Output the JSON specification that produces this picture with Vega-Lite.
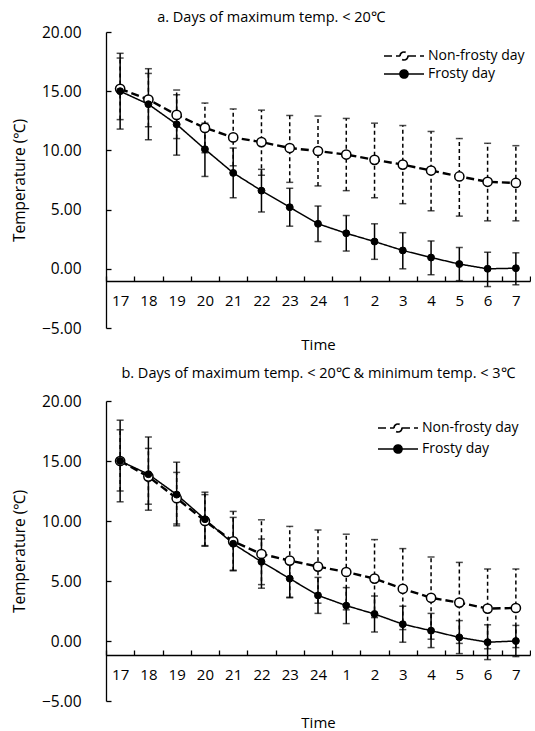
{
  "$schema": "https://vega.github.io/schema/vega-lite/v6.json",
  "padding": {"left": 12, "top": 9, "right": 0, "bottom": 0},
  "config": {
    "font": "Open Sans",
    "view": {"stroke": null},
    "axis": {"labelColor": "black", "titleColor": "black", "domainColor": "black", "tickColor": "black", "grid": false, "labelFontSize": 15, "titleFontSize": 15, "titleFontWeight": "normal", "domainWidth": 1.3, "tickWidth": 1.3},
    "axisY": {"labelFontSize": 15.5, "titleFontSize": 15.5},
    "title": {"fontSize": 14.5, "fontWeight": "normal", "color": "black", "frame": "group"},
    "legend": {"labelColor": "black", "labelFontSize": 14}
  },
  "datasets": {
    "a": [
      {"time": "17", "series": "Non-frosty day", "mean": 15.2, "lo": 12.6, "hi": 17.8},
      {"time": "18", "series": "Non-frosty day", "mean": 14.3, "lo": 12.0, "hi": 16.5},
      {"time": "19", "series": "Non-frosty day", "mean": 13.0, "lo": 11.0, "hi": 15.1},
      {"time": "20", "series": "Non-frosty day", "mean": 11.9, "lo": 9.8, "hi": 14.0},
      {"time": "21", "series": "Non-frosty day", "mean": 11.1, "lo": 8.7, "hi": 13.5},
      {"time": "22", "series": "Non-frosty day", "mean": 10.7, "lo": 7.9, "hi": 13.4},
      {"time": "23", "series": "Non-frosty day", "mean": 10.2, "lo": 7.3, "hi": 12.95},
      {"time": "24", "series": "Non-frosty day", "mean": 9.95, "lo": 7.0, "hi": 12.9},
      {"time": "1", "series": "Non-frosty day", "mean": 9.65, "lo": 6.6, "hi": 12.7},
      {"time": "2", "series": "Non-frosty day", "mean": 9.2, "lo": 6.0, "hi": 12.3},
      {"time": "3", "series": "Non-frosty day", "mean": 8.8, "lo": 5.5, "hi": 12.1},
      {"time": "4", "series": "Non-frosty day", "mean": 8.3, "lo": 4.9, "hi": 11.6},
      {"time": "5", "series": "Non-frosty day", "mean": 7.8, "lo": 4.45, "hi": 11.0},
      {"time": "6", "series": "Non-frosty day", "mean": 7.35, "lo": 4.05, "hi": 10.6},
      {"time": "7", "series": "Non-frosty day", "mean": 7.25, "lo": 4.05, "hi": 10.4},
      {"time": "17", "series": "Frosty day", "mean": 15.0, "lo": 11.8, "hi": 18.2},
      {"time": "18", "series": "Frosty day", "mean": 13.9, "lo": 10.9, "hi": 16.9},
      {"time": "19", "series": "Frosty day", "mean": 12.2, "lo": 9.6, "hi": 14.7},
      {"time": "20", "series": "Frosty day", "mean": 10.1, "lo": 7.8, "hi": 12.3},
      {"time": "21", "series": "Frosty day", "mean": 8.1, "lo": 6.0, "hi": 10.2},
      {"time": "22", "series": "Frosty day", "mean": 6.6, "lo": 4.8, "hi": 8.4},
      {"time": "23", "series": "Frosty day", "mean": 5.2, "lo": 3.6, "hi": 6.8},
      {"time": "24", "series": "Frosty day", "mean": 3.8, "lo": 2.3, "hi": 5.3},
      {"time": "1", "series": "Frosty day", "mean": 3.0, "lo": 1.5, "hi": 4.5},
      {"time": "2", "series": "Frosty day", "mean": 2.3, "lo": 0.8, "hi": 3.8},
      {"time": "3", "series": "Frosty day", "mean": 1.55, "lo": 0.0, "hi": 3.05},
      {"time": "4", "series": "Frosty day", "mean": 0.95, "lo": -0.5, "hi": 2.35},
      {"time": "5", "series": "Frosty day", "mean": 0.4, "lo": -1.0, "hi": 1.8},
      {"time": "6", "series": "Frosty day", "mean": 0.0, "lo": -1.5, "hi": 1.4},
      {"time": "7", "series": "Frosty day", "mean": 0.05, "lo": -1.35, "hi": 1.35}
    ],
    "b": [
      {"time": "17", "series": "Non-frosty day", "mean": 15.0, "lo": 12.5, "hi": 17.6},
      {"time": "18", "series": "Non-frosty day", "mean": 13.7, "lo": 11.4, "hi": 16.05},
      {"time": "19", "series": "Non-frosty day", "mean": 11.9, "lo": 9.75, "hi": 14.05},
      {"time": "20", "series": "Non-frosty day", "mean": 10.0, "lo": 7.9, "hi": 12.2},
      {"time": "21", "series": "Non-frosty day", "mean": 8.3, "lo": 5.85, "hi": 10.8},
      {"time": "22", "series": "Non-frosty day", "mean": 7.25, "lo": 4.4, "hi": 10.1},
      {"time": "23", "series": "Non-frosty day", "mean": 6.7, "lo": 3.65, "hi": 9.55},
      {"time": "24", "series": "Non-frosty day", "mean": 6.2, "lo": 3.15, "hi": 9.25},
      {"time": "1", "series": "Non-frosty day", "mean": 5.75, "lo": 2.6, "hi": 8.9},
      {"time": "2", "series": "Non-frosty day", "mean": 5.2, "lo": 1.95, "hi": 8.45},
      {"time": "3", "series": "Non-frosty day", "mean": 4.35, "lo": 0.95, "hi": 7.7},
      {"time": "4", "series": "Non-frosty day", "mean": 3.6, "lo": 0.15, "hi": 7.0},
      {"time": "5", "series": "Non-frosty day", "mean": 3.2, "lo": -0.2, "hi": 6.55},
      {"time": "6", "series": "Non-frosty day", "mean": 2.7, "lo": -0.65, "hi": 6.0},
      {"time": "7", "series": "Non-frosty day", "mean": 2.75, "lo": -0.55, "hi": 6.0},
      {"time": "17", "series": "Frosty day", "mean": 15.0, "lo": 11.6, "hi": 18.4},
      {"time": "18", "series": "Frosty day", "mean": 13.9, "lo": 10.9, "hi": 17.0},
      {"time": "19", "series": "Frosty day", "mean": 12.2, "lo": 9.6, "hi": 14.9},
      {"time": "20", "series": "Frosty day", "mean": 10.15, "lo": 7.95, "hi": 12.4},
      {"time": "21", "series": "Frosty day", "mean": 8.1, "lo": 5.9, "hi": 10.3},
      {"time": "22", "series": "Frosty day", "mean": 6.6, "lo": 4.7, "hi": 8.5},
      {"time": "23", "series": "Frosty day", "mean": 5.2, "lo": 3.6, "hi": 6.8},
      {"time": "24", "series": "Frosty day", "mean": 3.8, "lo": 2.3, "hi": 5.3},
      {"time": "1", "series": "Frosty day", "mean": 2.95, "lo": 1.45, "hi": 4.45},
      {"time": "2", "series": "Frosty day", "mean": 2.25, "lo": 0.75, "hi": 3.75},
      {"time": "3", "series": "Frosty day", "mean": 1.4, "lo": -0.1, "hi": 2.9},
      {"time": "4", "series": "Frosty day", "mean": 0.86, "lo": -0.55, "hi": 2.3},
      {"time": "5", "series": "Frosty day", "mean": 0.3, "lo": -1.05, "hi": 1.7},
      {"time": "6", "series": "Frosty day", "mean": -0.1, "lo": -1.55, "hi": 1.35},
      {"time": "7", "series": "Frosty day", "mean": 0.0, "lo": -1.3, "hi": 1.3}
    ]
  },
  "spacing": 13,
  "resolve": {
    "scale": {"strokeDash": "independent"},
    "legend": {"strokeDash": "independent"}
  },
  "vconcat": [
    {
      "width": 424,
      "height": 296,
      "title": {"text": "a. Days of maximum temp. < 20℃", "offset": 0, "dx": -47},
      "data": {"name": "a"},
      "encoding": {
        "x": {
          "field": "time", "type": "ordinal",
          "sort": ["17","18","19","20","21","22","23","24","1","2","3","4","5","6","7"],
          "scale": {"type": "band", "paddingInner": 0, "paddingOuter": 0},
          "title": "Time",
          "axis": {"offset": -47, "tickBand": "extent", "tickSize": -5, "labelPadding": 17, "labelAngle": 0, "titleY": 56}
        }
      },
      "layer": [
        {
          "transform": [{"filter": "datum.series === 'Non-frosty day'"}],
          "mark": {"type": "rule", "color": "black", "strokeWidth": 1.5, "strokeDash": [4, 3]},
          "encoding": {
            "y": {"field": "lo", "type": "quantitative", "title": "Temperature (℃)",
                  "scale": {"domain": [-5, 20], "nice": false, "zero": false},
                  "axis": {"values": [-5, 0, 5, 10, 15, 20], "format": ".2f", "tickSize": -5, "labelPadding": 30, "titlePadding": 14}},
            "y2": {"field": "hi"}
          }
        },
        {
          "transform": [{"filter": "datum.series === 'Frosty day'"}],
          "mark": {"type": "rule", "color": "black", "strokeWidth": 1.5},
          "encoding": {
            "y": {"field": "lo", "type": "quantitative", "title": "Temperature (℃)"},
            "y2": {"field": "hi"}
          }
        },
        {
          "mark": {"type": "tick", "orient": "horizontal", "color": "black", "size": 7, "thickness": 1.5},
          "encoding": {"y": {"field": "lo", "type": "quantitative", "title": "Temperature (℃)"}}
        },
        {
          "mark": {"type": "tick", "orient": "horizontal", "color": "black", "size": 7, "thickness": 1.5},
          "encoding": {"y": {"field": "hi", "type": "quantitative", "title": "Temperature (℃)"}}
        },
        {
          "transform": [{"filter": "datum.series === 'Non-frosty day'"}],
          "mark": {"type": "line", "color": "black", "strokeWidth": 2.4},
          "encoding": {
            "y": {"field": "mean", "type": "quantitative", "title": "Temperature (℃)"},
            "strokeDash": {"field": "series", "type": "nominal",
              "scale": {"domain": ["Non-frosty day", "Frosty day"], "range": [[8, 4], [1, 0]]},
              "legend": {"title": null, "orient": "none", "legendX": 291, "legendY": 17,
                "symbolType": "M-4,0L-0.8,0M0.8,0L4,0M0.8,0A0.8,0.8 0 1 1 -0.8,0A0.8,0.8 0 1 1 0.8,0",
                "symbolSize": 100, "symbolStrokeColor": "black", "symbolStrokeWidth": 1.7,
                "rowPadding": 2, "labelOffset": 17,
                "encoding": {"symbols": {
                  "stroke": {"value": "black"},
                  "strokeWidth": {"value": 1.7},
                  "fill": {"condition": {"test": "datum.value === 'Frosty day'", "value": "black"}, "value": "white"}}}}}
          }
        },
        {
          "transform": [{"filter": "datum.series === 'Frosty day'"}],
          "mark": {"type": "line", "color": "black", "strokeWidth": 1.5},
          "encoding": {
            "y": {"field": "mean", "type": "quantitative", "title": "Temperature (℃)"},
            "strokeDash": {"field": "series", "type": "nominal"}
          }
        },
        {
          "transform": [{"filter": "datum.series === 'Non-frosty day'"}],
          "mark": {"type": "point", "filled": true, "fill": "white", "stroke": "black", "strokeWidth": 1.5, "size": 85, "opacity": 1},
          "encoding": {"y": {"field": "mean", "type": "quantitative", "title": "Temperature (℃)"}}
        },
        {
          "transform": [{"filter": "datum.series === 'Frosty day'"}],
          "mark": {"type": "point", "filled": true, "fill": "black", "stroke": "black", "strokeWidth": 1, "size": 48, "opacity": 1},
          "encoding": {"y": {"field": "mean", "type": "quantitative", "title": "Temperature (℃)"}}
        }
      ]
    },
    {
      "width": 424,
      "height": 300,
      "title": {"text": "b. Days of maximum temp. < 20℃ & minimum temp. < 3℃", "offset": 13},
      "data": {"name": "b"},
      "encoding": {
        "x": {
          "field": "time", "type": "ordinal",
          "sort": ["17","18","19","20","21","22","23","24","1","2","3","4","5","6","7"],
          "scale": {"type": "band", "paddingInner": 0, "paddingOuter": 0},
          "title": "Time",
          "axis": {"offset": -46, "tickBand": "extent", "tickSize": -5, "labelPadding": 17, "labelAngle": 0, "titleY": 60}
        }
      },
      "layer": [
        {
          "transform": [{"filter": "datum.series === 'Non-frosty day'"}],
          "mark": {"type": "rule", "color": "black", "strokeWidth": 1.5, "strokeDash": [4, 3]},
          "encoding": {
            "y": {"field": "lo", "type": "quantitative", "title": "Temperature (℃)",
                  "scale": {"domain": [-5, 20], "nice": false, "zero": false},
                  "axis": {"values": [-5, 0, 5, 10, 15, 20], "format": ".2f", "tickSize": -5, "labelPadding": 30, "titlePadding": 14}},
            "y2": {"field": "hi"}
          }
        },
        {
          "transform": [{"filter": "datum.series === 'Frosty day'"}],
          "mark": {"type": "rule", "color": "black", "strokeWidth": 1.5},
          "encoding": {
            "y": {"field": "lo", "type": "quantitative", "title": "Temperature (℃)"},
            "y2": {"field": "hi"}
          }
        },
        {
          "mark": {"type": "tick", "orient": "horizontal", "color": "black", "size": 7, "thickness": 1.5},
          "encoding": {"y": {"field": "lo", "type": "quantitative", "title": "Temperature (℃)"}}
        },
        {
          "mark": {"type": "tick", "orient": "horizontal", "color": "black", "size": 7, "thickness": 1.5},
          "encoding": {"y": {"field": "hi", "type": "quantitative", "title": "Temperature (℃)"}}
        },
        {
          "transform": [{"filter": "datum.series === 'Non-frosty day'"}],
          "mark": {"type": "line", "color": "black", "strokeWidth": 2.4},
          "encoding": {
            "y": {"field": "mean", "type": "quantitative", "title": "Temperature (℃)"},
            "strokeDash": {"field": "series", "type": "nominal",
              "scale": {"domain": ["Non-frosty day", "Frosty day"], "range": [[8, 4], [1, 0]]},
              "legend": {"title": null, "orient": "none", "legendX": 285, "legendY": 20,
                "symbolType": "M-4,0L-0.8,0M0.8,0L4,0M0.8,0A0.8,0.8 0 1 1 -0.8,0A0.8,0.8 0 1 1 0.8,0",
                "symbolSize": 100, "symbolStrokeColor": "black", "symbolStrokeWidth": 1.7,
                "rowPadding": 5, "labelOffset": 17,
                "encoding": {"symbols": {
                  "stroke": {"value": "black"},
                  "strokeWidth": {"value": 1.7},
                  "fill": {"condition": {"test": "datum.value === 'Frosty day'", "value": "black"}, "value": "white"}}}}}
          }
        },
        {
          "transform": [{"filter": "datum.series === 'Frosty day'"}],
          "mark": {"type": "line", "color": "black", "strokeWidth": 1.5},
          "encoding": {
            "y": {"field": "mean", "type": "quantitative", "title": "Temperature (℃)"},
            "strokeDash": {"field": "series", "type": "nominal"}
          }
        },
        {
          "transform": [{"filter": "datum.series === 'Non-frosty day'"}],
          "mark": {"type": "point", "filled": true, "fill": "white", "stroke": "black", "strokeWidth": 1.5, "size": 85, "opacity": 1},
          "encoding": {"y": {"field": "mean", "type": "quantitative", "title": "Temperature (℃)"}}
        },
        {
          "transform": [{"filter": "datum.series === 'Frosty day'"}],
          "mark": {"type": "point", "filled": true, "fill": "black", "stroke": "black", "strokeWidth": 1, "size": 48, "opacity": 1},
          "encoding": {"y": {"field": "mean", "type": "quantitative", "title": "Temperature (℃)"}}
        }
      ]
    }
  ]
}
